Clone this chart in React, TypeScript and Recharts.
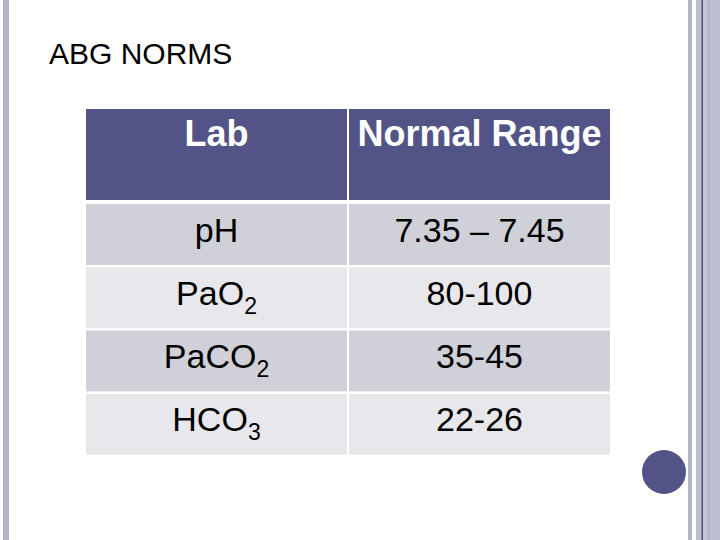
import React from "react";
import { BarChart, Bar, XAxis, YAxis, Cell, LabelList, Customized } from "recharts";

// ---- data ----
const title = "ABG NORMS";
const columnHeaders = ["Lab", "Normal Range"];
const labs = ["pH", "PaO2", "PaCO2", "HCO3"];
const normalRanges = ["7.35 – 7.45", "80-100", "35-45", "22-26"];

// ---- layout / style ----
const W = 720;
const H = 540;
const M = { top: 109, right: 109, bottom: 84, left: 85 };
const HEADER_AXIS_H = 94;
const HEADER_BOTTOM = 200;
const PLOT_W = W - M.left - M.right;
const COL_W = PLOT_W / columnHeaders.length;
const HEADER_FILL = "#525487";
const ROW_FILLS = ["#CFD0D8", "#E8E8EC"];
const FONT = "'Liberation Sans', Arial, sans-serif";

const tableData = labs.map((lab, i) => ({
  lab,
  range: normalRanges[i],
  labCol: 1,
  rangeCol: 1,
}));

function splitSub(s: string): [string, string] {
  const m = s.match(/^(.*?[A-Za-z])(\d)$/);
  return m ? [m[1], m[2]] : [s, ""];
}

const HeaderTick = (props: any) => {
  const { x, payload, index } = props;
  const label = columnHeaders[index] ?? "";
  return (
    <g>
      <rect
        x={x - COL_W / 2 + 1}
        y={M.top}
        width={COL_W - 2}
        height={HEADER_BOTTOM - M.top}
        fill={HEADER_FILL}
      />
      <text
        x={x}
        y={146}
        textAnchor="middle"
        fill="#ffffff"
        fontFamily={FONT}
        fontWeight="bold"
        fontSize={36}
      >
        {label}
      </text>
    </g>
  );
};

const CellText = (props: any) => {
  const { x, y, width, height, value } = props;
  const [base, sub] = splitSub(String(value));
  return (
    <text
      x={Number(x) + Number(width) / 2}
      y={Number(y) + Number(height) / 2 + 7}
      textAnchor="middle"
      fill="#000000"
      fontFamily={FONT}
      fontSize={34}
    >
      <tspan>{base}</tspan>
      {sub ? (
        <tspan fontSize={23} dy={9}>
          {sub}
        </tspan>
      ) : null}
    </text>
  );
};

const Decor = () => (
  <g>
    <rect x={3} y={0} width={6} height={H} fill="#B5B5C6" />
    <rect x={688} y={0} width={4} height={H} fill="#B5B6C6" />
    <rect x={696} y={0} width={24} height={H} fill="#BEBFCF" />
    <rect x={703} y={0} width={4} height={H} fill="#C4C5DA" />
    <rect x={707} y={0} width={3} height={H} fill="#B5B6CA" />
    <rect x={701.5} y={0} width={1.5} height={H} fill="#525487" />
    <circle cx={664} cy={472} r={22} fill={HEADER_FILL} />
    <text x={49} y={64} fontFamily={FONT} fontSize={30} fill="#000000">
      {title}
    </text>
  </g>
);

export default function App() {
  return (
    <div style={{ position: "absolute", left: 0, top: 0, width: W, height: H, background: "#ffffff" }}>
      <BarChart
        width={W}
        height={H}
        data={tableData}
        layout="vertical"
        margin={M}
        barCategoryGap={0}
      >
        <Customized component={Decor} />
        <XAxis
          type="number"
          orientation="top"
          domain={[0, 2]}
          ticks={[0.5, 1.5]}
          height={HEADER_AXIS_H}
          axisLine={false}
          tickLine={false}
          tick={<HeaderTick />}
          interval={0}
        />
        <YAxis type="category" dataKey="lab" hide width={0} />
        <Bar dataKey="labCol" stackId="t" stroke="#ffffff" strokeWidth={2} isAnimationActive={false}>
          {tableData.map((_, i) => (
            <Cell key={`l${i}`} fill={ROW_FILLS[i % 2]} />
          ))}
          <LabelList dataKey="lab" content={<CellText />} />
        </Bar>
        <Bar dataKey="rangeCol" stackId="t" stroke="#ffffff" strokeWidth={2} isAnimationActive={false}>
          {tableData.map((_, i) => (
            <Cell key={`r${i}`} fill={ROW_FILLS[i % 2]} />
          ))}
          <LabelList dataKey="range" content={<CellText />} />
        </Bar>
      </BarChart>
    </div>
  );
}
